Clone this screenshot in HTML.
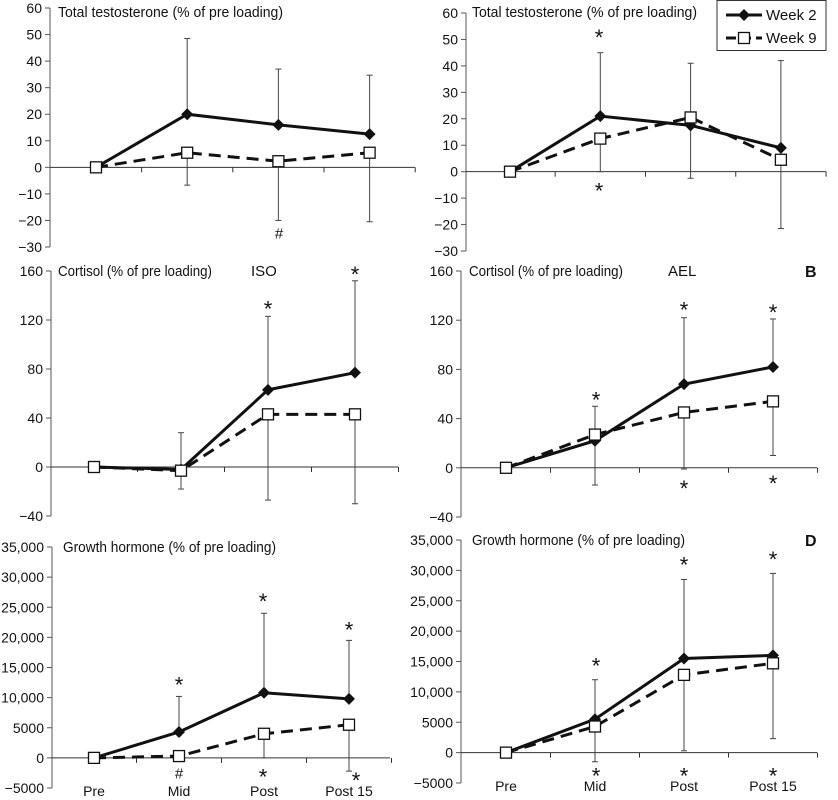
<!DOCTYPE html>
<html><head><meta charset="utf-8"><style>
body{margin:0;background:#fff;}
svg{display:block;font-family:"Liberation Sans",sans-serif;}
</style></head><body>
<svg id="c" width="838" height="800" viewBox="0 0 838 800"></svg>
<script>
const categories = ["Pre","Mid","Post","Post 15"];
// Testosterone ISO
const testoIsoW2 = [0,20,16,12.5];
const testoIsoW9 = [0,5.5,2.3,5.5];
const testoIsoUp = [null,48.5,37,34.7];
const testoIsoDown = [null,-6.7,-20,-20.5];
// Testosterone AEL
const testoAelW2 = [0,21,17.5,9];
const testoAelW9 = [0,12.5,20.5,4.5];
const testoAelUp = [null,45,41,42];
const testoAelDown = [null,0,-2.5,-21.5];
// Cortisol ISO
const cortIsoW2 = [0,-2,63,77];
const cortIsoW9 = [0,-3,43,43];
const cortIsoUp = [null,28,123,152];
const cortIsoDown = [null,-18,-27,-30];
// Cortisol AEL
const cortAelW2 = [0,22,68,82];
const cortAelW9 = [0,27,45,54];
const cortAelUp = [null,50,122,121];
const cortAelDown = [null,-14,-1,10];
// Growth hormone ISO
const ghIsoW2 = [0,4300,10800,9800];
const ghIsoW9 = [0,300,4000,5500];
const ghIsoUp = [null,10200,24000,19500];
const ghIsoDown = [null,null,0,-2200];
// Growth hormone AEL
const ghAelW2 = [0,5500,15500,16000];
const ghAelW9 = [0,4300,12800,14700];
const ghAelUp = [null,12000,28500,29500];
const ghAelDown = [null,-1500,300,2300];
// tick labels
const testoTicks = [60,50,40,30,20,10,0,-10,-20,-30];
const cortTicks = [160,120,80,40,0,-40];
const ghTicks = [35000,30000,25000,20000,15000,10000,5000,0,-5000];

const NS="http://www.w3.org/2000/svg";
const svg=document.getElementById('c');
function mk(tag,attrs,parent){const e=document.createElementNS(NS,tag);for(const k in attrs)e.setAttribute(k,attrs[k]);(parent||svg).appendChild(e);return e;}
function fmt(v){const s=Math.abs(v)>=10000?Math.abs(v).toLocaleString('en-US'):String(Math.abs(v));return (v<0?'\u2212':'')+s;}

const panels=[
 {id:'testo-iso',ax:50,x0:96,dx:91.2,ymax:60,ymin:-30,ytop:8,ybot:247,end:415,ticks:testoTicks,w2:testoIsoW2,w9:testoIsoW9,up:testoIsoUp,dn:testoIsoDown,title:'Total testosterone (% of pre loading)',tx:58,ty:12,tw:225,
  marks:[['#',279,-25]]},
 {id:'testo-ael',ax:466,x0:510,dx:90.3,ymax:60,ymin:-30,ytop:13,ybot:251,end:826,ticks:testoTicks,w2:testoAelW2,w9:testoAelW9,up:testoAelUp,dn:testoAelDown,title:'Total testosterone (% of pre loading)',tx:472,ty:12,tw:225,
  marks:[['*',599,52],['*',599,-6]]},
 {id:'cortisol-iso',ax:51,x0:94,dx:87,ymax:160,ymin:-40,ytop:271,ybot:516,end:398,ticks:cortTicks,w2:cortIsoW2,w9:cortIsoW9,up:cortIsoUp,dn:cortIsoDown,title:'Cortisol (% of pre loading)',tx:58,ty:271,tw:154,extra:'ISO',ex:251,
  marks:[['*',268,132],['*',355,160]]},
 {id:'cortisol-ael',ax:461,x0:506,dx:89,ymax:160,ymin:-40,ytop:271,ybot:517,end:817,ticks:cortTicks,w2:cortAelW2,w9:cortAelW9,up:cortAelUp,dn:cortAelDown,title:'Cortisol (% of pre loading)',tx:469,ty:271,tw:154,extra:'AEL',ex:668,letter:'B',
  marks:[['*',596,58],['*',684,131],['*',773,129],['*',684,-14],['*',773,-10]]},
 {id:'gh-iso',ax:52,x0:94,dx:85,ymax:35000,ymin:-5000,ytop:547,ybot:788,end:390,ticks:ghTicks,w2:ghIsoW2,w9:ghIsoW9,up:ghIsoUp,dn:ghIsoDown,title:'Growth hormone (% of pre loading)',tx:63,ty:547,tw:213,
  marks:[['*',179,12700],['*',263,26500],['*',349,21800],['#',179,-2600],['*',263,-2600],['*',356,-3200]],xlabels:true},
 {id:'gh-ael',ax:461,x0:506,dx:89,ymax:35000,ymin:-5000,ytop:540,ybot:783,end:817,ticks:ghTicks,w2:ghAelW2,w9:ghAelW9,up:ghAelUp,dn:ghAelDown,title:'Growth hormone (% of pre loading)',tx:472,ty:540,tw:213,letter:'D',
  marks:[['*',596,14800],['*',684,31500],['*',773,32400],['*',596,-3300],['*',684,-3300],['*',773,-3300]],xlabels:true}
];

panels.forEach(p=>{
  const g=mk('g',{});
  
  
  const y=v=>p.ytop+(p.ymax-v)/(p.ymax-p.ymin)*(p.ybot-p.ytop);
  const x=i=>p.x0+i*p.dx;
  const ya=mk('line',{x1:p.ax,y1:p.ytop,x2:p.ax,y2:p.ybot,stroke:'#555','stroke-width':1},g);
  
  p.ticks.forEach(t=>{
    mk('line',{x1:p.ax-5,y1:y(t),x2:p.ax,y2:y(t),stroke:'#555'},g);
    const tl=mk('text',{x:p.ax-8,y:y(t)+5,'text-anchor':'end','font-size':14,fill:'#111'},g);
    tl.textContent=fmt(t);
    
  });
  const y0=y(0);
  const xa=mk('line',{x1:p.ax,y1:y0,x2:p.end,y2:y0,stroke:'#333'},g);
  
  for(let i=1;i<=4;i++){mk('line',{x1:p.x0+(i-0.5)*p.dx,y1:y0,x2:p.x0+(i-0.5)*p.dx,y2:y0+5,stroke:'#333'},g);}
  if(p.xlabels){categories.forEach((c,i)=>{const t=mk('text',{x:x(i),y:p.ybot+8,'text-anchor':'middle','font-size':14,fill:'#111'},g);t.textContent=c;});}
  categories.forEach((c,i)=>{
    [p.up[i],p.dn[i]].forEach(v=>{
      if(v==null)return;
      const base = v>=p.w2[i] ? Math.max(p.w2[i],p.w9[i]) : Math.min(p.w2[i],p.w9[i]);
      const eb=mk('line',{x1:x(i),y1:y(base),x2:x(i),y2:y(v),stroke:'#444'},g);
      
      mk('line',{x1:x(i)-3,y1:y(v),x2:x(i)+3,y2:y(v),stroke:'#444'},g);
    });
  });
  const l9=mk('polyline',{points:p.w9.map((v,i)=>x(i)+','+y(v)).join(' '),fill:'none',stroke:'#111','stroke-width':3,'stroke-dasharray':'12,7'},g);
  
  const l2=mk('polyline',{points:p.w2.map((v,i)=>x(i)+','+y(v)).join(' '),fill:'none',stroke:'#111','stroke-width':3},g);
  
  p.w2.forEach((v,i)=>{const d=mk('polygon',{points:`${x(i)},${y(v)-6} ${x(i)+6},${y(v)} ${x(i)},${y(v)+6} ${x(i)-6},${y(v)}`,fill:'#111'},g);
    });
  p.w9.forEach((v,i)=>{const s=mk('rect',{x:x(i)-5.5,y:y(v)-5.5,width:11,height:11,fill:'#fff',stroke:'#111','stroke-width':1.3},g);
    });
  p.marks.forEach(([s,mx,mv])=>{const t=mk('text',{x:mx,y:y(mv)+(s=='*'?11:5),'text-anchor':'middle','font-size':s=='*'?22:15,fill:'#111'},g);t.textContent=s;
    });
  const tt=mk('text',{x:p.tx,y:p.ty+5,'font-size':15,fill:'#111',textLength:p.tw,lengthAdjust:'spacingAndGlyphs'},g);tt.textContent=p.title;
  
  if(p.extra){const e=mk('text',{x:p.ex,y:p.ty+5,'font-size':15,fill:'#111'},g);e.textContent=p.extra;}
  if(p.letter){const e=mk('text',{x:805,y:p.ty+6,'font-size':16,'font-weight':'bold',fill:'#111'},g);e.textContent=p.letter;}
});

const lg=mk('g',{});


mk('rect',{x:717,y:0.5,width:109,height:50,fill:'#fff',stroke:'#333'},lg);
mk('line',{x1:726,y1:15,x2:762,y2:15,stroke:'#111','stroke-width':3},lg);
mk('polygon',{points:'744,9 750,15 744,21 738,15',fill:'#111'},lg);
const t1=mk('text',{x:766,y:20,'font-size':15,fill:'#111'},lg);t1.textContent='Week 2';

mk('line',{x1:726,y1:38,x2:762,y2:38,stroke:'#111','stroke-width':3,'stroke-dasharray':'10,5'},lg);
mk('rect',{x:738.5,y:32.5,width:11,height:11,fill:'#fff',stroke:'#111','stroke-width':1.3},lg);
const t2=mk('text',{x:766,y:43,'font-size':15,fill:'#111'},lg);t2.textContent='Week 9';

</script>
</body></html>
